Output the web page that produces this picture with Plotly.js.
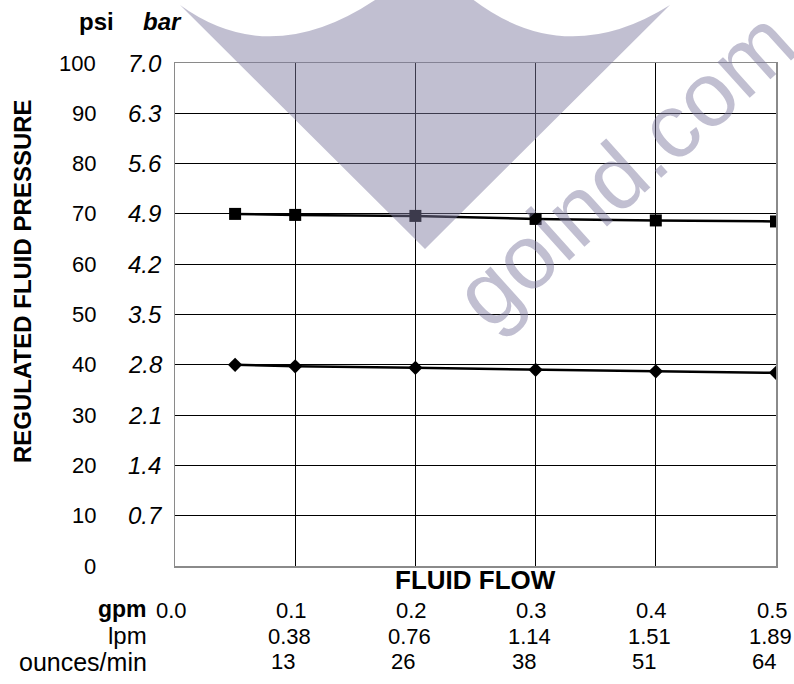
<!DOCTYPE html>
<html>
<head>
<meta charset="utf-8">
<script src="https://cdn.plot.ly/plotly-3.0.1.min.js"></script>
<style>html,body{margin:0;padding:0;background:#fff;}#chart{width:794px;height:684px;}</style>
</head>
<body>
<div id="chart"></div>
<script>
// ---- data ----
const flowGpm = [0.05, 0.1, 0.2, 0.3, 0.4, 0.5];
const pressureHigh = [70, 69.8, 69.6, 69.0, 68.7, 68.5];
const pressureLow = [40, 39.7, 39.4, 39.0, 38.7, 38.4];
const psiTicks = [0, 10, 20, 30, 40, 50, 60, 70, 80, 90, 100];
const barLabels = ['', '0.7', '1.4', '2.1', '2.8', '3.5', '4.2', '4.9', '5.6', '6.3', '7.0'];
const gpmTicks = [0, 0.1, 0.2, 0.3, 0.4, 0.5];
const gpmLabels = ['0.0', '0.1', '0.2', '0.3', '0.4', '0.5'];
const lpmTicks = [0.1, 0.2, 0.3, 0.4, 0.5];
const lpmLabels = ['0.38', '0.76', '1.14', '1.51', '1.89'];
const ozLabels = ['13', '26', '38', '51', '64'];
const watermarkText = 'goind.com.';

// ---- layout geometry ----
const W = 794, H = 684;
const M = {l: 175, r: 18, t: 63, b: 118};
const PW = W - M.l - M.r, PH = H - M.t - M.b;
const px = x => (x - M.l) / PW;           // pixel -> paper x
const py = y => (H - M.b - y) / PH;       // pixel -> paper y
const FONT = 'Liberation Sans, Arial, Helvetica, sans-serif';
const f = (size, extra) => Object.assign({family: FONT, size: size, color: '#000'}, extra || {});

const traces = [
  {x: flowGpm, y: pressureHigh, type: 'scatter', mode: 'lines+markers',
   line: {color: '#000', width: 2.5}, marker: {symbol: 'square', size: 12, color: '#000'}},
  {x: flowGpm, y: pressureLow, type: 'scatter', mode: 'lines+markers',
   line: {color: '#000', width: 2.5}, marker: {symbol: 'diamond', size: 11, color: '#000'}}
];

const ann = [];
const A = o => ann.push(Object.assign({showarrow: false, xanchor: 'center', yanchor: 'middle'}, o));
psiTicks.forEach((v, i) => {
  A({xref: 'paper', yref: 'y', x: px(98), y: v, xanchor: 'right', text: String(v), font: f(22)});
  if (barLabels[i]) A({xref: 'paper', yref: 'y', x: px(126), y: v, xanchor: 'left', text: barLabels[i],
                       font: f(24, {style: 'italic'})});
});
A({xref: 'paper', yref: 'paper', x: px(96.5), y: py(22), text: '<b>psi</b>', font: f(24)});
A({xref: 'paper', yref: 'paper', x: px(162.5), y: py(22), text: '<b><i>bar</i></b>', font: f(24)});
A({xref: 'paper', yref: 'paper', x: px(22), y: py(281), textangle: -90, text: '<b>REGULATED FLUID PRESSURE</b>', font: f(24)});
A({xref: 'paper', yref: 'paper', x: 0.5, y: py(580), text: '<b>FLUID FLOW</b>', font: f(26)});
// bottom unit rows
A({xref: 'paper', yref: 'paper', x: px(149), y: py(609), xanchor: 'right', text: '<b>gpm</b>', font: f(23)});
gpmTicks.forEach((v, i) => A({xref: 'x', yref: 'paper', x: v, xshift: -4, y: py(610), text: gpmLabels[i], font: f(22)}));
A({xref: 'paper', yref: 'paper', x: px(149), y: py(635), xanchor: 'right', text: 'lpm', font: f(24)});
lpmTicks.forEach((v, i) => A({xref: 'x', yref: 'paper', x: v, xshift: -6, y: py(636), text: lpmLabels[i], font: f(22)}));
A({xref: 'paper', yref: 'paper', x: px(149), y: py(662), xanchor: 'right', text: 'ounces/min', font: f(25)});
lpmTicks.forEach((v, i) => A({xref: 'x', yref: 'paper', x: v, xshift: -26, xanchor: 'left', y: py(661),
                              text: ozLabels[i], font: f(22)}));
// watermark text
A({xref: 'paper', yref: 'paper', x: px(633), y: py(160), text: watermarkText, textangle: -42,
   font: f(91, {color: 'rgba(125,121,158,0.48)'})});

const P = (x, y) => px(x) + ',' + py(y);
const wmPath = 'M ' + P(180, 5) + ' Q ' + P(271, 71) + ' ' + P(378, -2) + ' L ' + P(471, -2) +
               ' Q ' + P(565, 71) + ' ' + P(670, 5) + ' L ' + P(425, 249) + ' Z';

const layout = {
  width: W, height: H, margin: M, showlegend: false,
  paper_bgcolor: '#fff', plot_bgcolor: '#fff',
  font: {family: FONT, color: '#000'},
  xaxis: {range: [0, 0.5], tickvals: gpmTicks, showticklabels: false, ticks: '',
          showgrid: true, gridcolor: '#000', gridwidth: 1, zeroline: false,
          showline: true, linecolor: '#8a8a8a', linewidth: 1.5, mirror: true, fixedrange: true},
  yaxis: {range: [0, 100], tickvals: psiTicks, showticklabels: false, ticks: '',
          showgrid: true, gridcolor: '#000', gridwidth: 1, zeroline: false,
          showline: true, linecolor: '#8a8a8a', linewidth: 1.5, mirror: true, fixedrange: true},
  annotations: ann,
  shapes: [{type: 'path', xref: 'paper', yref: 'paper', path: wmPath, layer: 'above',
            fillcolor: 'rgba(125,121,158,0.48)', line: {width: 0}}]
};

Plotly.newPlot('chart', traces, layout, {displayModeBar: false, staticPlot: true});
</script>
</body>
</html>
